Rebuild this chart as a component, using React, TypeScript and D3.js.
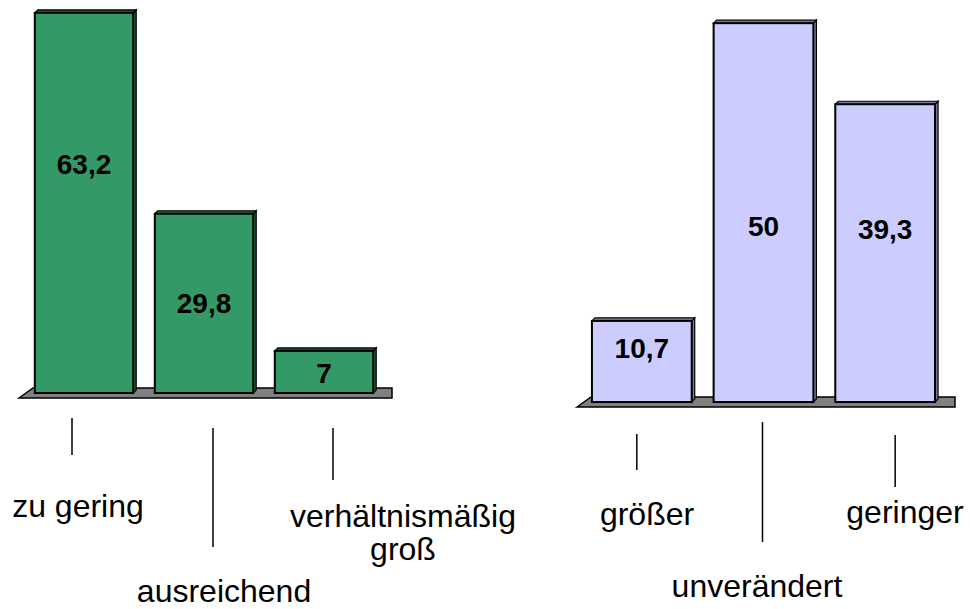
import React from "react";
import * as d3 from "d3";

// ---- data ----
const leftCategories = ["zu gering", "ausreichend", "verhältnismäßig groß"];
const leftValues = [63.2, 29.8, 7];
const leftValueLabels = ["63,2", "29,8", "7"];

const rightCategories = ["größer", "unverändert", "geringer"];
const rightValues = [10.7, 50, 39.3];
const rightValueLabels = ["10,7", "50", "39,3"];

// ---- layout (positions / styles, not data) ----
type Layout = {
  xRange: [number, number];
  base: number;
  yMax: number;
  yTop: number;
  floorLeft: number;
  floorRight: number;
  fill: string;
  dark: string;
  valueLabelY: number[];
  leaderDx: number[];
  leaderY: [number, number][];
  catLabelPos: { x: number; y: number; lines: string[] }[];
};

const leftLayout: Layout = {
  xRange: [24, 384],
  base: 393,
  yMax: 65,
  yTop: 2,
  floorLeft: 19,
  floorRight: 392,
  fill: "#339966",
  dark: "#1d5a3c",
  valueLabelY: [164, 303, 373],
  leaderDx: [-12, 9, 9],
  leaderY: [
    [418, 455],
    [428, 547],
    [428, 480],
  ],
  catLabelPos: [
    { x: 78, y: 517, lines: ["zu gering"] },
    { x: 224, y: 602, lines: ["ausreichend"] },
    { x: 403, y: 527, lines: ["verhältnismäßig", "groß"] },
  ],
};

const rightLayout: Layout = {
  xRange: [581, 946],
  base: 402,
  yMax: 52,
  yTop: 8,
  floorLeft: 577,
  floorRight: 955,
  fill: "#ccccff",
  dark: "#7c7c9c",
  valueLabelY: [348, 226, 229],
  leaderDx: [-5, -1, 10],
  leaderY: [
    [434, 470],
    [422, 542],
    [435, 487],
  ],
  catLabelPos: [
    { x: 647, y: 525, lines: ["größer"] },
    { x: 757, y: 597, lines: ["unverändert"] },
    { x: 905, y: 523, lines: ["geringer"] },
  ],
};

const DEPTH = 3;
const FONT = "'Liberation Sans', Arial, Helvetica, sans-serif";

function BarChart({
  categories,
  values,
  valueLabels,
  layout,
}: {
  categories: string[];
  values: number[];
  valueLabels: string[];
  layout: Layout;
}) {
  const x = d3
    .scaleBand<string>()
    .domain(categories)
    .range(layout.xRange)
    .paddingInner(0.18)
    .paddingOuter(0.09);
  const y = d3
    .scaleLinear()
    .domain([0, layout.yMax])
    .range([layout.base, layout.yTop]);
  const bw = x.bandwidth();
  const base = layout.base;
  const fd = 5; // floor front offset below bars
  const floorFront = base + fd;
  const floorBack = base - 5;

  const floorPath = d3.path();
  floorPath.moveTo(layout.floorLeft, floorFront);
  floorPath.lineTo(layout.floorLeft + 14, floorBack);
  floorPath.lineTo(layout.floorRight, floorBack);
  floorPath.lineTo(layout.floorRight, floorFront);
  floorPath.closePath();

  return (
    <g>
      <path d={floorPath.toString()} fill="#808080" stroke="#000" strokeWidth={1.5} />
      {categories.map((c, i) => {
        const x0 = x(c)!;
        const yt = y(values[i]);
        const top = `M${x0},${yt}L${x0 + DEPTH},${yt - DEPTH}L${x0 + bw + DEPTH},${yt - DEPTH}L${x0 + bw},${yt}Z`;
        const side = `M${x0 + bw},${yt}L${x0 + bw + DEPTH},${yt - DEPTH}L${x0 + bw + DEPTH},${base - DEPTH}L${x0 + bw},${base}Z`;
        return (
          <g key={c}>
            <path d={side} fill={layout.dark} stroke="#000" strokeWidth={1.2} />
            <path d={top} fill={layout.dark} stroke="#000" strokeWidth={1.2} />
            <rect
              x={x0}
              y={yt}
              width={bw}
              height={base - yt}
              fill={layout.fill}
              stroke="#000"
              strokeWidth={2}
            />
            <text
              x={x0 + bw / 2}
              y={layout.valueLabelY[i]}
              textAnchor="middle"
              dominantBaseline="central"
              fontFamily={FONT}
              fontWeight="bold"
              fontSize={28}
              fill="#000"
            >
              {valueLabels[i]}
            </text>
            <line
              x1={x0 + bw / 2 + layout.leaderDx[i]}
              x2={x0 + bw / 2 + layout.leaderDx[i]}
              y1={layout.leaderY[i][0]}
              y2={layout.leaderY[i][1]}
              stroke="#000"
              strokeWidth={1.5}
            />
          </g>
        );
      })}
      {layout.catLabelPos.map((p, i) => (
        <text
          key={i}
          x={p.x}
          y={p.y}
          textAnchor="middle"
          fontFamily={FONT}
          fontSize={32}
          fill="#000"
        >
          {p.lines.map((l, j) => (
            <tspan key={j} x={p.x} dy={j === 0 ? 0 : 33}>
              {l}
            </tspan>
          ))}
        </text>
      ))}
    </g>
  );
}

export default function App() {
  return (
    <svg
      width={970}
      height={609}
      viewBox="0 0 970 609"
      style={{ position: "absolute", left: 0, top: 0, background: "#fff" }}
    >
      <rect width={970} height={609} fill="#fff" />
      <BarChart
        categories={leftCategories}
        values={leftValues}
        valueLabels={leftValueLabels}
        layout={leftLayout}
      />
      <BarChart
        categories={rightCategories}
        values={rightValues}
        valueLabels={rightValueLabels}
        layout={rightLayout}
      />
    </svg>
  );
}
